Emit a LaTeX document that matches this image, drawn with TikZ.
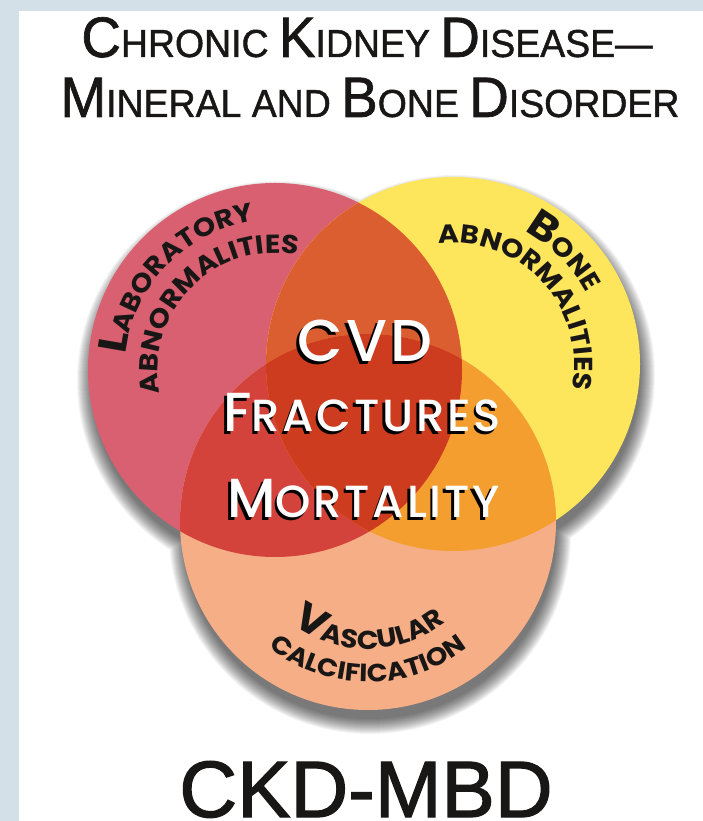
\documentclass[tikz,border=0pt]{standalone}
\usepackage{fontspec}
\setmainfont{Liberation Sans}
\newfontfamily\ttlfont{Liberation Sans}[FakeBold=1.2,FakeStretch=0.96]
\newfontfamily\ckdfont{Liberation Sans}[FakeBold=1.6,FakeStretch=1.0]
\newfontfamily\labfont{Poppins Bold}[FakeStretch=1.1]
\newfontfamily\ctrfont{Poppins Medium}[LetterSpace=6]
\usetikzlibrary{decorations.text,calc}
\definecolor{bgblue}{RGB}{211,224,231}
\definecolor{redc}{RGB}{217,96,113}
\definecolor{yelc}{RGB}{253,229,92}
\definecolor{peac}{RGB}{246,174,134}
\definecolor{ryc}{RGB}{219,94,48}
\definecolor{rpc}{RGB}{212,66,60}
\definecolor{ypc}{RGB}{244,158,48}
\definecolor{allc}{RGB}{205,60,30}
\definecolor{ink}{RGB}{25,22,22}
\newcommand\tBig{\ttlfont\fontsize{57}{57}\selectfont}
\newcommand\tSm{\ttlfont\fontsize{39}{39}\selectfont}
\newcommand\labBig{\labfont\fontsize{40}{40}\selectfont}
\newcommand\labSm{\labfont\fontsize{26}{26}\selectfont}
\newcommand\labSmm{\labfont\fontsize{25}{25}\selectfont}
\newcommand\cHuge{\ctrfont\fontsize{59}{59}\selectfont}
\newcommand\cBig{\ctrfont\fontsize{55}{55}\selectfont}
\newcommand\cSm{\ctrfont\fontsize{45}{45}\selectfont}
\tikzset{
  ctr/.style={text=white, anchor=base, inner sep=0pt},
  ctrsh/.style={text=black, anchor=base, inner sep=0pt},
  ttl/.style={text=ink, anchor=base, inner sep=0pt},
  curved/.style={decorate, decoration={text along path, text align=center, text color=ink, text={#1}}}
}
\begin{document}
\begin{tikzpicture}[x=1pt,y=1pt]
\useasboundingbox (0,0) rectangle (703,821);
\fill[bgblue] (0,0) rectangle (703,821);
\fill[white] (19,0) rectangle (703,810);
\coordinate (R) at (275,451);
\coordinate (Y) at (453,457);
\coordinate (P) at (368,299);
% shadow
\foreach \k in {0,...,15}{
  \fill[black,opacity=0.045] ([shift={(2,-11)}]R) circle ({200-\k})
     ([shift={(2,-11)}]Y) circle ({200-\k})
     ([shift={(2,-11)}]P) circle ({201-\k});
}
% circles
\fill[redc] (R) circle (187);
\fill[yelc] (Y) circle (187);
\fill[peac] (P) circle (188);
\begin{scope}
  \clip (R) circle (187);
  \fill[ryc] (Y) circle (187);
  \fill[rpc] (P) circle (188);
\end{scope}
\begin{scope}
  \clip (Y) circle (187);
  \fill[ypc] (P) circle (188);
\end{scope}
\begin{scope}
  \clip (R) circle (187);
  \clip (Y) circle (187);
  \fill[allc] (P) circle (188);
\end{scope}
% curved labels
\path[curved={|\labBig|L|\labSm|ABORATORY}] ($(R)+(210:150)$) arc[start angle=210, end angle=62, radius=150];
\path[curved={|\labSm|ABNORMALITIES}] ($(R)+(225:117)$) arc[start angle=225, end angle=45, radius=117];
\path[curved={|\labBig|B|\labSm|ONE}] ($(Y)+(115:151)$) arc[start angle=115, end angle=-25, radius=151];
\path[curved={|\labSm|ABNORMALITIES}] ($(Y)+(132:121)$) arc[start angle=132, end angle=-47, radius=121];
\path[curved={|\labBig|V|\labSm|ASCULAR}] ($(P)+(200:127)$) arc[start angle=200, end angle=341, radius=127];
\path[curved={|\labSmm|CALCIFICATION}] ($(P)+(195:160)$) arc[start angle=195, end angle=345, radius=160];
% centre text
\node[ctrsh] (cvds) at (362.5,456.5) {\cHuge CVD};
\node[ctr] (cvd) at (365,459) {\cHuge CVD};
\node[ctrsh] (frs) at (359.5,386.5) {\cBig F\cSm RACTURES};
\node[ctr] (fr) at (362,389) {\cBig F\cSm RACTURES};
\node[ctrsh] (mos) at (361,300.5) {\cBig M\cSm ORTALITY};
\node[ctr] (mo) at (363.5,303) {\cBig M\cSm ORTALITY};
% titles
\node[ttl] (t1) at (367,764) {\tBig C\tSm HRONIC \tBig K\tSm IDNEY \tBig D\tSm ISEASE—};
\node[ttl] (t2) at (370,704) {\tBig M\tSm INERAL AND \tBig B\tSm ONE \tBig D\tSm ISORDER};
\node[ttl] (ckd) at (366,4) {\ckdfont\fontsize{80}{80}\selectfont CKD-MBD};
\end{tikzpicture}
\end{document}
